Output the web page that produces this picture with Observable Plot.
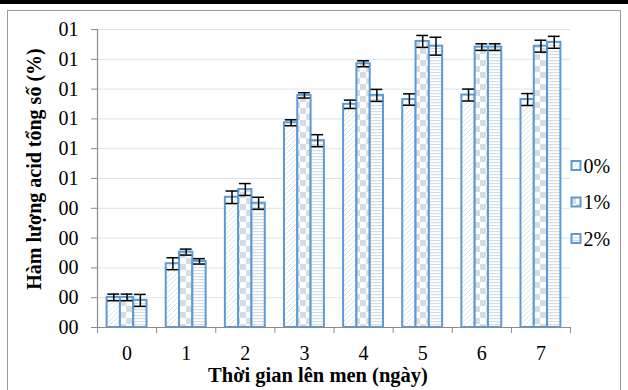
<!DOCTYPE html>
<html>
<head>
<meta charset="utf-8">
<script src="https://cdn.jsdelivr.net/npm/d3@7"></script>
<script src="https://cdn.jsdelivr.net/npm/@observablehq/plot@0.6"></script>
<style>
  html, body { margin: 0; padding: 0; background: white; }
  #wrap { position: relative; width: 628px; height: 390px; overflow: hidden; background: white; }
  #chart { position: absolute; left: 0; top: 0; }
  #chart svg text { font-family: "Liberation Serif", "Times New Roman", serif; }
  #topbar { position: absolute; left: 0; top: 0; width: 628px; height: 4px; background: #000; z-index: 2; }
  #frame { position: absolute; left: 7px; top: 10px; width: 612px; height: 400px; border: 1px solid #9a9a9a; z-index: 2; pointer-events: none; }
</style>
</head>
<body>
<div id="wrap">
  <div id="chart"></div>
  <div id="topbar"></div>
  <div id="frame"></div>
</div>
<script>
// ---- data ----
const days = [0, 1, 2, 3, 4, 5, 6, 7];
const series = ["0%", "1%", "2%"];
const values0 = [0.101, 0.214, 0.437, 0.687, 0.749, 0.765, 0.780, 0.765];
const values1 = [0.101, 0.253, 0.463, 0.779, 0.885, 0.960, 0.941, 0.944];
const values2 = [0.091, 0.222, 0.417, 0.627, 0.779, 0.944, 0.941, 0.957];
const errors0 = [0.011, 0.020, 0.021, 0.010, 0.014, 0.019, 0.020, 0.020];
const errors1 = [0.011, 0.010, 0.020, 0.009, 0.010, 0.020, 0.011, 0.020];
const errors2 = [0.020, 0.009, 0.020, 0.020, 0.020, 0.030, 0.011, 0.020];
const yTicks = [0, 0.1, 0.2, 0.3, 0.4, 0.5, 0.6, 0.7, 0.8, 0.9, 1.0];
const yTickLabels = ["00", "00", "00", "00", "00", "01", "01", "01", "01", "01", "01"];
const xTitle = "Thời gian lên men (ngày)";
const yTitle = "Hàm lượng acid tổng số (%)";

const valueSets = [values0, values1, values2];
const errorSets = [errors0, errors1, errors2];
const table = [];
series.forEach((s, si) => days.forEach((d, di) => {
  table.push({day: d, series: s, si, value: valueSets[si][di], err: errorSets[si][di]});
}));

const FONT = "Liberation Serif";
const BW = 0.225;           // bar width in day units
const CAP = 0.1;            // half cap width in day units
const center = d => d.day + (d.si - 1) * BW;
const boundaries = d3.range(-0.5, 8, 1);
const patternIds = ["pDiag", "pCheck", "pHoriz"];
const blue = "#5b9bd5";
const light = "#d6dce5";

function defsMark() {
  const defs = d3.create("svg:defs");
  const p0 = defs.append("pattern").attr("id", "pDiag").attr("patternUnits", "userSpaceOnUse")
    .attr("width", 5).attr("height", 5);
  p0.append("rect").attr("width", 5).attr("height", 5).attr("fill", "white");
  p0.append("path").attr("d", "M-1,6 L6,-1 M-1,1 L1,-1 M4,6 L6,4")
    .attr("stroke", "#dbe1ea").attr("stroke-width", 0.9);
  const p1 = defs.append("pattern").attr("id", "pCheck").attr("patternUnits", "userSpaceOnUse")
    .attr("width", 12).attr("height", 12);
  p1.append("rect").attr("width", 12).attr("height", 12).attr("fill", "white");
  p1.append("rect").attr("width", 6).attr("height", 6).attr("fill", light);
  p1.append("rect").attr("x", 6).attr("y", 6).attr("width", 6).attr("height", 6).attr("fill", light);
  const p2 = defs.append("pattern").attr("id", "pHoriz").attr("patternUnits", "userSpaceOnUse")
    .attr("width", 4).attr("height", 3);
  p2.append("rect").attr("width", 4).attr("height", 3).attr("fill", "white");
  p2.append("rect").attr("width", 4).attr("height", 1.2).attr("fill", light);
  return defs.node();
}

function legendMark(index, scales, values, dims) {
  const g = d3.create("svg:g");
  const x0 = dims.width - dims.marginRight + 1.5;
  series.forEach((s, i) => {
    const y0 = 161 + i * 36.5;
    g.append("rect").attr("x", x0).attr("y", y0).attr("width", 9).attr("height", 9)
      .attr("fill", `url(#${patternIds[i]})`).attr("stroke", blue).attr("stroke-width", 2);
    g.append("text").attr("x", x0 + 12).attr("y", y0 + 11.8)
      .attr("text-anchor", "start").attr("font-family", FONT)
      .attr("font-size", 20).attr("fill", "black").text(s);
  });
  return g.node();
}

const plot = Plot.plot({
  width: 628,
  height: 390,
  marginLeft: 97,
  marginRight: 58,
  marginTop: 29,
  marginBottom: 63,
  style: {fontFamily: FONT, fontSize: "20px", background: "transparent", color: "black"},
  x: {type: "linear", domain: [-0.5, 7.5]},
  y: {domain: [0, 1.0]},
  marks: [
    defsMark,
    Plot.gridY(yTicks.slice(1), {stroke: "#d9e3ef", strokeOpacity: 1, strokeWidth: 1}),
    Plot.axisY({ticks: yTicks, tickFormat: d => yTickLabels[yTicks.indexOf(d)], tickSize: 6, tickPadding: 13,
      stroke: "#8c8c8c", fill: "black", fontSize: 20, fontFamily: FONT, label: null}),
    Plot.axisX({ticks: boundaries, tickFormat: () => "", tickSize: 6, stroke: "#8c8c8c", label: null}),
    Plot.axisX({ticks: days, tickFormat: d3.format("d"), tickSize: 0, tickPadding: 18, fill: "black",
      fontSize: 20, fontFamily: FONT, label: null}),
    ...series.map((s, si) => Plot.rectY(table.filter(d => d.si === si), {
      x1: d => center(d) - BW / 2,
      x2: d => center(d) + BW / 2,
      y1: 0,
      y2: "value",
      fill: `url(#${patternIds[si]})`,
      stroke: blue,
      strokeWidth: 2
    })),
    Plot.ruleX(table, {x: center, y1: d => d.value - d.err, y2: d => d.value + d.err, stroke: "black", strokeWidth: 1.5}),
    Plot.ruleY(table, {y: d => d.value + d.err, x1: d => center(d) - CAP, x2: d => center(d) + CAP, stroke: "black", strokeWidth: 1.5}),
    Plot.ruleY(table, {y: d => d.value - d.err, x1: d => center(d) - CAP, x2: d => center(d) + CAP, stroke: "black", strokeWidth: 1.5}),
    Plot.ruleX([-0.5], {y1: 0, y2: 1.0, stroke: "#8c8c8c", strokeWidth: 1.2}),
    Plot.ruleY([0], {stroke: "#8c8c8c", strokeWidth: 1.2}),
    Plot.text([yTitle], {frameAnchor: "left", rotate: -90, dx: -63, dy: -9.5, fontWeight: "bold", fontSize: 20,
      fontFamily: FONT, fill: "black", textAnchor: "middle", lineAnchor: "middle"}),
    Plot.text([xTitle], {frameAnchor: "bottom", dx: -16, dy: 48, fontWeight: "bold", fontSize: 20.5,
      fontFamily: FONT, fill: "black", textAnchor: "middle", lineAnchor: "middle"}),
    legendMark
  ]
});
document.getElementById("chart").appendChild(plot);
</script>
</body>
</html>
